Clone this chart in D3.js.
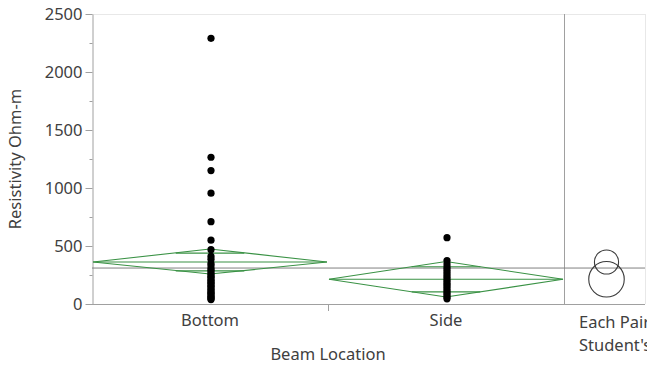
<!DOCTYPE html>
<html>
<head>
<meta charset="utf-8">
<script src="https://cdn.jsdelivr.net/npm/d3@7"></script>
<style>
  body { margin: 0; background: #fff; }
  text { font-family: "Noto Sans", "Open Sans", sans-serif; fill: #404040; }
</style>
</head>
<body>
<script>
// categories and values
var categories = ["Bottom", "Side"];
var bottomValues = [2290, 1265, 1150, 955, 710, 550, 468, 410, 385, 350, 330, 305, 290, 272, 255,
                    240, 228, 212, 200, 188, 176, 162, 150, 138, 125, 112, 100, 90, 78, 66, 55, 45, 38];
var sideValues = [572, 375, 345, 318, 298, 278, 258, 238, 218, 200, 182, 165, 148, 130, 112, 95, 78, 60, 45];
var groupMeans = [362, 213];
var ciLow = [258, 60];
var ciHigh = [474, 366];
var grandMean = 310;
var yTicks = [0, 500, 1000, 1500, 2000, 2500];
var yMinor = [250, 750, 1250, 1750, 2250];

var W = 647, H = 369;
var pLeft = 92, pTop = 14, mainRight = 564, panelRight = 645, pBottom = 304;
var fs = "16.5px";

var svg = d3.select("body").append("svg")
    .attr("width", W)
    .attr("height", H);

var y = d3.scaleLinear().domain([0, 2500]).range([pBottom, pTop]);
var x = d3.scaleBand().domain(categories).range([pLeft, mainRight]).padding(0);

var axisCol = "#a0a0a0";
var green = "#3a9245";

// frame
svg.append("line").attr("x1", pLeft).attr("x2", panelRight).attr("y1", pTop + 0.5).attr("y2", pTop + 0.5)
    .attr("stroke", "#e8e8e8");
svg.append("line").attr("x1", panelRight + 0.5).attr("x2", panelRight + 0.5).attr("y1", pTop).attr("y2", pBottom)
    .attr("stroke", "#e8e8e8");
svg.append("line").attr("x1", mainRight + 0.5).attr("x2", mainRight + 0.5).attr("y1", pTop).attr("y2", pBottom + 0.5)
    .attr("stroke", axisCol);
svg.append("line").attr("x1", pLeft).attr("x2", panelRight).attr("y1", pBottom + 0.5).attr("y2", pBottom + 0.5)
    .attr("stroke", axisCol);

// y axis
var yAxis = svg.append("g")
    .attr("transform", "translate(" + (pLeft + 0.5) + ",0)")
    .call(d3.axisLeft(y).tickValues(yTicks).tickFormat(d3.format("d")).tickSize(7).tickSizeOuter(0).tickPadding(3));
yAxis.selectAll("text").style("font-size", fs);
var yAxisMinor = svg.append("g")
    .attr("transform", "translate(" + (pLeft + 0.5) + ",0)")
    .call(d3.axisLeft(y).tickValues(yMinor).tickSize(3).tickFormat(""));
yAxisMinor.select(".domain").remove();
svg.selectAll(".domain, .tick line").attr("stroke", axisCol);

svg.append("text")
    .attr("transform", "translate(21," + ((pTop + pBottom) / 2) + ") rotate(-90)")
    .attr("text-anchor", "middle")
    .style("font-size", fs)
    .text("Resistivity Ohm-m");

// x axis
var xAxis = svg.append("g")
    .attr("transform", "translate(0," + (pBottom + 0.5) + ")")
    .call(d3.axisBottom(x).tickSize(0).tickPadding(10));
xAxis.select(".domain").remove();
xAxis.selectAll("text").style("font-size", fs);
svg.append("line")
    .attr("x1", x("Side") + 0.5).attr("x2", x("Side") + 0.5)
    .attr("y1", pBottom).attr("y2", pBottom + 7)
    .attr("stroke", axisCol);

svg.append("text")
    .attr("x", (pLeft + mainRight) / 2)
    .attr("y", 360)
    .attr("text-anchor", "middle")
    .style("font-size", fs)
    .text("Beam Location");

// grand mean
svg.append("line")
    .attr("x1", pLeft).attr("x2", panelRight)
    .attr("y1", y(grandMean)).attr("y2", y(grandMean))
    .attr("stroke", "#808080").attr("stroke-width", 1);

// mean diamonds with overlap marks
categories.forEach(function(c, i) {
  var x0 = x(c) + 1, x1 = x(c) + x.bandwidth() - 1, xm = (x0 + x1) / 2;
  var ym = y(groupMeans[i]);
  var g = svg.append("g").attr("fill", "none").attr("stroke", green).attr("stroke-width", 1.1);
  g.append("path")
    .attr("d", "M" + x0 + "," + ym + "L" + xm + "," + y(ciHigh[i]) + "L" + x1 + "," + ym +
               "L" + xm + "," + y(ciLow[i]) + "Z");
  g.append("line").attr("x1", x0).attr("x2", x1).attr("y1", ym).attr("y2", ym);
  var half = (ciHigh[i] - ciLow[i]) / 2;
  var hw = (x1 - x0) / 2;
  var span = hw * (1 - 1 / Math.SQRT2);
  [1, -1].forEach(function(s) {
    var v = groupMeans[i] + s * half / Math.SQRT2;
    g.append("line")
      .attr("x1", xm - span).attr("x2", xm + span)
      .attr("y1", y(v)).attr("y2", y(v));
  });
});

// points
var pts = [];
bottomValues.forEach(function(v) { pts.push({cat: "Bottom", v: v}); });
sideValues.forEach(function(v) { pts.push({cat: "Side", v: v}); });
svg.selectAll(".pt")
    .data(pts)
    .enter().append("circle")
    .attr("class", "pt")
    .attr("cx", function(d) { return x(d.cat) + x.bandwidth() / 2 + 1; })
    .attr("cy", function(d) { return y(d.v); })
    .attr("r", 3.6)
    .attr("fill", "#000");

// comparison circles
var cx = (mainRight + panelRight) / 2 + 2;
categories.forEach(function(c, i) {
  svg.append("circle")
    .attr("cx", cx)
    .attr("cy", y(groupMeans[i]))
    .attr("r", y(ciLow[i]) - y(groupMeans[i]))
    .attr("fill", "none")
    .attr("stroke", "#3a3a3a")
    .attr("stroke-width", 1.1);
});

svg.append("text").attr("x", 579).attr("y", 328).style("font-size", fs).text("Each Pair");
svg.append("text").attr("x", 579).attr("y", 351).style("font-size", fs).text("Student's t");
</script>
</body>
</html>
